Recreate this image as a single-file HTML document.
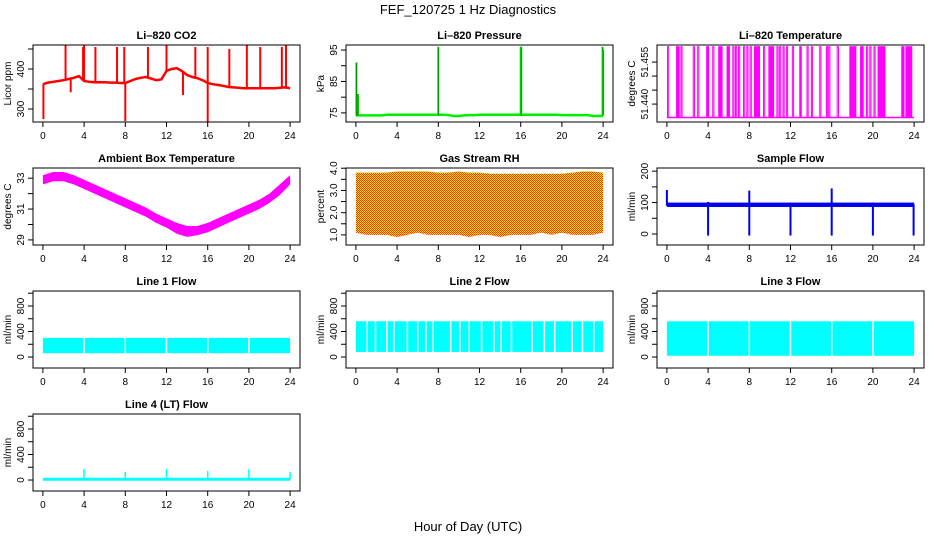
<!DOCTYPE html>
<html><head><meta charset="utf-8"><style>
body{margin:0;background:#fff}
svg{display:block;font-family:"Liberation Sans",sans-serif}
</style></head><body>
<svg id="s" width="936" height="540" xmlns="http://www.w3.org/2000/svg">
<defs><pattern id="rhpat" width="2" height="2" patternUnits="userSpaceOnUse"><rect width="2" height="2" fill="#ffe000"/><rect width="1" height="1" fill="#ff3000"/><rect x="1" y="1" width="1" height="1" fill="#ff3000"/></pattern></defs>
<text x="468" y="14" text-anchor="middle" font-size="13">FEF_120725  1 Hz Diagnostics</text>
<text x="468" y="531" text-anchor="middle" font-size="13">Hour of Day (UTC)</text>
</svg>
<script>
// ---- data ----
const xTicks=[0,4,8,12,16,20,24];
const halfHours=[0,0.5,1,1.5,2,2.5,3,3.5,4,4.5,5,5.5,6,6.5,7,7.5,8,8.5,9,9.5,10,10.5,11,11.5,12,12.5,13,13.5,14,14.5,15,15.5,16,16.5,17,17.5,18,18.5,19,19.5,20,20.5,21,21.5,22,22.5,23,23.5,24];
const co2Base=[362,366,368,370,372,375,378,382,370,368,367,367,367,366,366,365,365,370,375,378,380,376,372,374,395,400,402,395,385,380,377,372,365,362,360,358,355,354,353,352,352,352,352,352,352,352,353,354,352];
const co2SpikeHours=[0.05,2.2,2.7,3.9,4.0,5.1,7.2,7.9,8.0,10.2,12.0,13.6,14.8,16.0,16.0,18.1,19.8,21.1,23.2,23.6];
const co2SpikeVals=[275,460,342,455,460,455,455,455,270,455,460,335,455,455,266,450,460,455,455,460];
const presBase=[74.2,74.2,74.2,74.2,74.2,74.2,74.4,74.4,74.4,74.4,74.4,74.4,74.4,74.4,74.4,74.4,74.4,74.4,74.3,74.0,74.0,74.2,74.3,74.3,74.4,74.4,74.4,74.4,74.4,74.4,74.4,74.4,74.4,74.4,74.4,74.4,74.4,74.4,74.4,74.4,74.3,74.3,74.3,74.3,74.3,74.3,74.0,74.0,74.0];
const presSpikeHours=[0.05,0.2,8.0,16.0,16.05,23.95,24.0];
const presSpikeVals=[91,81,96,96,96,96,95];
const tempLow=51.4352, tempHigh=51.4605;
const tempPulseStart=[0.06,0.94,1.36,2.56,2.99,3.86,4.45,5.03,5.84,6.4,6.66,6.95,7.44,7.76,8.08,8.5,9.38,9.9,10.68,10.94,11.27,11.6,12.18,12.9,13.6,14.03,14.84,15.49,15.71,16.53,17.76,18.8,19.38,19.7,20.1,20.5,22.8,23.2];
const tempPulseEnd=[0.1,1.2,1.4,2.6,3.03,4.06,4.49,5.36,6.07,6.44,6.7,6.99,7.48,7.8,8.12,8.99,9.42,10.36,10.72,10.98,11.31,11.64,12.3,13.05,13.64,14.07,14.88,15.53,15.75,16.66,18.34,19.06,19.42,19.74,20.14,21.17,23.02,23.77];
const ambHours=[0,1,2,3,4,5,6,7,8,9,10,11,12,13,14,15,16,17,18,19,20,21,22,23,24];
const ambHi=[33.2,33.4,33.4,33.2,32.9,32.6,32.3,32.0,31.7,31.4,31.1,30.7,30.4,30.1,29.9,29.9,30.1,30.4,30.7,31.0,31.3,31.6,32.0,32.6,33.2];
const ambLo=[32.6,32.8,32.8,32.6,32.3,32.0,31.7,31.4,31.1,30.8,30.5,30.1,29.8,29.4,29.2,29.3,29.5,29.8,30.1,30.4,30.7,31.0,31.4,31.9,32.6];
const rhHours=[0,1,2,3,4,5,6,7,8,9,10,11,12,13,14,15,16,17,18,19,20,21,22,23,24];
const rhHi=[3.8,3.8,3.8,3.8,3.85,3.85,3.85,3.85,3.8,3.8,3.85,3.8,3.8,3.75,3.75,3.75,3.75,3.75,3.75,3.75,3.75,3.8,3.85,3.85,3.8];
const rhLo=[1.1,1.0,1.0,1.0,0.9,1.0,1.1,1.0,1.0,1.0,1.0,0.9,1.0,1.0,0.9,1.0,1.0,1.0,1.1,1.0,1.1,1.0,1.0,1.0,1.1];
const sfBaseHi=100, sfBaseLo=86;
const sfEventHours=[0.0,4.0,8.0,12.0,16.0,20.0,23.95];
const sfEventMax=[140,102,138,100,145,100,95];
const sfEventMin=[90,-5,-5,-5,-5,-5,-5];
const flowGapHours=[4,8,12,16,20];
const l1Lo=60,l1Hi=300;
const l2Lo=80,l2Hi=560;
const l3Lo=20,l3Hi=560;
const l4Base=12;
const l4SpikeHours=[4,8,12,16,20,24];
const l4SpikeVals=[170,130,170,140,170,130];
const l2GapHours=[1.1,1.9,3.0,3.7,5.0,6.0,6.8,7.5,9.2,10.1,11.0,12.2,13.4,14.1,15.1,17.1,18.3,19.3,21.0,22.0,23.1];

// ---- layout ----
const NS='http://www.w3.org/2000/svg';
const svg=document.getElementById('s');
const colL=[33,346,657], colW=267, rowT=[45,168,291,414], rowH=77;
function el(tag,attrs,parent){const e=document.createElementNS(NS,tag);for(const k in attrs)e.setAttribute(k,attrs[k]);(parent||svg).appendChild(e);return e;}
function panel(name,col,row,title,ylab,ymin,ymax,yticks,ylabels){
  const g=el('g',{});
  
  
  const L=colL[col],T=rowT[row],R=L+colW,B=T+rowH;
  const x0=L+colW*0.96/25.92, x1=R-colW*0.96/25.92;
  const X=h=>x0+(x1-x0)*h/24;
  const Y=v=>B-(v-ymin)/(ymax-ymin)*rowH;
  const plot=el('g',{},g);
  const t=el('text',{x:(L+R)/2,y:T-6,'text-anchor':'middle','font-size':'11','font-weight':'bold'},g);t.textContent=title;
  
  
  el('rect',{x:L,y:T,width:colW,height:rowH,fill:'none',stroke:'#000','stroke-width':1},g);
  xTicks.forEach(h=>{el('line',{x1:X(h),x2:X(h),y1:B,y2:B+5,stroke:'#000'},g);
    const tl=el('text',{x:X(h),y:B+17,'text-anchor':'middle','font-size':'10'},g);tl.textContent=h;
    
    });
  el('line',{x1:X(0),x2:X(24),y1:B,y2:B,stroke:'#000'},g);
  yticks.forEach((v,i)=>{const y=Y(v);el('line',{x1:L,x2:L-5,y1:y,y2:y,stroke:'#000'},g);
    if(ylabels[i]){const tl=el('text',{x:L-9,y:y,'text-anchor':'middle','font-size':'10',transform:`rotate(-90 ${L-9} ${y})`},g);tl.textContent=ylabels[i];
      
      }});
  el('line',{x1:L,x2:L,y1:Y(yticks[0]),y2:Y(yticks[yticks.length-1]),stroke:'#000'},g);
  const yl=el('text',{x:L-22,y:T+rowH/2,'text-anchor':'middle','font-size':'10',transform:`rotate(-90 ${L-22} ${T+rowH/2})`},g);yl.textContent=ylab;
  
  
  return {g:plot,X,Y,L,R,T,B};
}
function band(p,xs,lo,hi,fill,name){
  let d='M'+xs.map((h,i)=>p.X(h)+','+p.Y(hi[i])).join('L')+'L'+xs.slice().reverse().map((h,i)=>p.X(h)+','+p.Y(lo[xs.length-1-i])).join('L')+'Z';
  const e=el('path',{d,fill,stroke:'none'},p.g);
  
  
  return e;
}
function vline(p,h,a,b,color,w,name){const e=el('line',{x1:p.X(h),x2:p.X(h),y1:p.Y(a),y2:p.Y(b),stroke:color,'stroke-width':w||1},p.g);
  
  return e;}

// CO2
let p=panel('co2-panel',0,0,'Li\u2013820 CO2','Licor ppm',267.5,460,[300,350,400,450],['300','','400','']);
const co2Line=el('polyline',{points:halfHours.map((h,i)=>p.X(h)+','+p.Y(co2Base[i])).join(' '),fill:'none',stroke:'#ff0000','stroke-width':2.5},p.g);


co2SpikeHours.forEach((h,i)=>{let j=Math.round(h*2);vline(p,h,co2Base[j],co2SpikeVals[i],'#ff0000',2,'co2-spike');});

// Pressure
p=panel('pressure-panel',1,0,'Li\u2013820 Pressure','kPa',72.1,96.6,[75,80,85,90,95],['75','','85','','95']);
const pl=el('polyline',{points:halfHours.map((h,i)=>p.X(h)+','+p.Y(presBase[i])).join(' '),fill:'none',stroke:'#00ee00','stroke-width':2.5},p.g);


presSpikeHours.forEach((h,i)=>{vline(p,h,74.2,presSpikeVals[i],'#00dd00',2,'pressure-spike');vline(p,h,74.2,presSpikeVals[i],'#000',0.6,'pressure-spike-dots').setAttribute('stroke-dasharray','1 1');});

// Li-820 Temp
p=panel('li820-temperature-panel',2,0,'Li\u2013820 Temperature','degrees C',51.4336,51.4611,[51.440,51.445,51.450,51.455],['51.440','','','51.455']);
const tb=el('line',{x1:p.X(0),x2:p.X(24),y1:p.Y(tempLow),y2:p.Y(tempLow),stroke:'#ff00ff','stroke-width':1.5},p.g);


tempPulseStart.forEach((s,i)=>{const r=el('rect',{x:p.X(s),y:p.Y(tempHigh),width:Math.max(1.2,p.X(tempPulseEnd[i])-p.X(s)),height:p.Y(tempLow)-p.Y(tempHigh),fill:'none',stroke:'#ff00ff','stroke-width':1},p.g);
  
  
  if(tempPulseEnd[i]-s>0.15)r.setAttribute('fill','#ff00ff');});

// Ambient
p=panel('ambient-temperature-panel',0,1,'Ambient Box Temperature','degrees C',28.67,33.66,[29,30,31,32,33],['29','','31','','33']);
band(p,ambHours,ambLo,ambHi,'#ff00ff','ambient-temp-band');

// RH
p=panel('gas-rh-panel',1,1,'Gas Stream RH','percent',0.545,4.01,[1,1.5,2,2.5,3,3.5,4],['1.0','','2.0','','3.0','','4.0']);
band(p,rhHours,rhLo,rhHi,'url(#rhpat)','rh-band');

// Sample flow
p=panel('sample-flow-panel',2,1,'Sample Flow','ml/min',-35,210,[0,50,100,150,200],['0','','100','','200']);
const sf=el('rect',{x:p.X(0),y:p.Y(sfBaseHi),width:p.X(24)-p.X(0),height:p.Y(sfBaseLo)-p.Y(sfBaseHi),fill:'#0000ee'},p.g);


sfEventHours.forEach((h,i)=>vline(p,h,sfEventMin[i],sfEventMax[i],'#0000ee',2,'sample-flow-event'));

// Line flows
const fT=[0,200,400,600,800,1000], fL=['0','','400','','800',''];
function flowPanel(name,col,row,title,lo,hi,gaps){
  const q=panel(name,col,row,title,'ml/min',-172,1035,fT,fL);
  const r=el('rect',{x:q.X(0),y:q.Y(hi),width:q.X(24)-q.X(0),height:q.Y(lo)-q.Y(hi),fill:'#00ffff'},q.g);
  
  
  gaps.forEach(h=>vline(q,h,lo,hi,'#fff',1.5,'flow-gap'));
  return q;
}
flowPanel('line1-flow-panel',0,2,'Line 1 Flow',l1Lo,l1Hi,flowGapHours);
flowPanel('line2-flow-panel',1,2,'Line 2 Flow',l2Lo,l2Hi,l2GapHours);
flowPanel('line3-flow-panel',2,2,'Line 3 Flow',l3Lo,l3Hi,flowGapHours);
p=panel('line4-flow-panel',0,3,'Line 4 (LT) Flow','ml/min',-172,1035,fT,fL);
const l4=el('line',{x1:p.X(0),x2:p.X(24),y1:p.Y(l4Base),y2:p.Y(l4Base),stroke:'#00ffff','stroke-width':3},p.g);


l4SpikeHours.forEach((h,i)=>vline(p,h,l4Base,l4SpikeVals[i],'#00ffff',1.5,'line4-spike'));
</script>
</body></html>
